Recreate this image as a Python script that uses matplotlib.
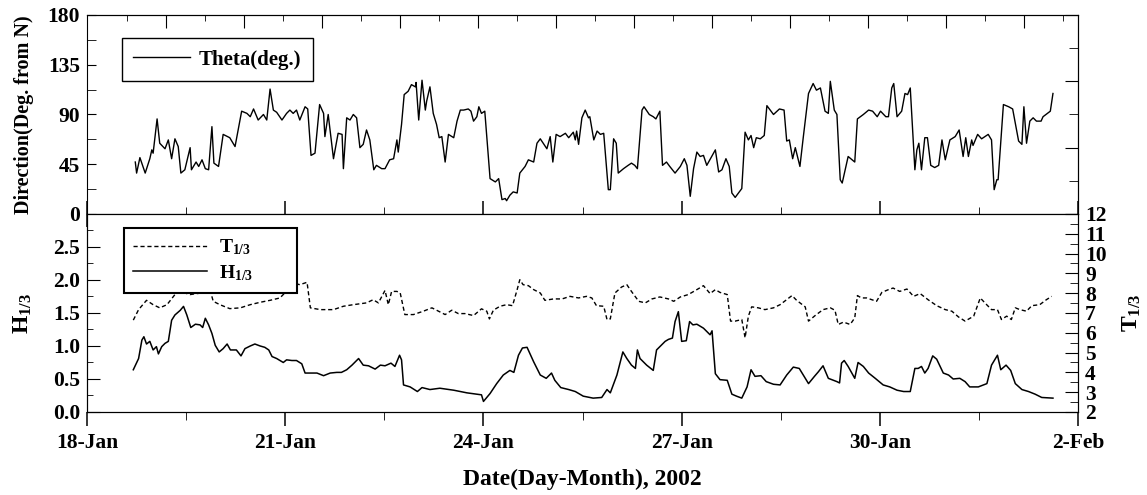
import numpy as np
import matplotlib
matplotlib.use('Agg')
import matplotlib.pyplot as plt
from matplotlib.ticker import MultipleLocator, FormatStrFormatter

plt.rcParams['font.family'] = ['Liberation Serif', 'DejaVu Serif']
plt.rcParams['font.weight'] = 'bold'
plt.rcParams['axes.labelweight'] = 'bold'
plt.rcParams['font.size'] = 15
plt.rcParams['mathtext.fontset'] = 'custom'
plt.rcParams['mathtext.rm'] = 'Liberation Serif'
plt.rcParams['mathtext.bf'] = 'Liberation Serif:bold'

# wave direction (deg from N), time in days of January 2002
theta_days = [18.73, 18.75, 18.80, 18.88, 18.95, 18.98, 19.00, 19.06, 19.10, 19.18,
              19.23, 19.28, 19.33, 19.38, 19.42, 19.48, 19.56, 19.58, 19.65, 19.69,
              19.74, 19.79, 19.84, 19.89, 19.92, 19.99, 20.06, 20.16, 20.24, 20.34,
              20.42, 20.47, 20.52, 20.59, 20.67, 20.72, 20.77, 20.82, 20.87, 20.95,
              21.02, 21.07, 21.12, 21.17, 21.22, 21.30, 21.34, 21.39, 21.45, 21.52,
              21.58, 21.60, 21.65, 21.73, 21.80, 21.86, 21.88, 21.93, 21.98, 22.03,
              22.08, 22.13, 22.18, 22.23, 22.28, 22.34, 22.38, 22.46, 22.51, 22.58,
              22.64, 22.69, 22.71, 22.76, 22.80, 22.86, 22.91, 22.97, 22.98, 23.02,
              23.07, 23.12, 23.14, 23.19, 23.24, 23.29, 23.33, 23.37, 23.42,
              23.47, 23.55, 23.60, 23.65, 23.70, 23.77, 23.81, 23.85, 23.90, 23.93,
              23.97, 24.02, 24.10, 24.18, 24.23, 24.28, 24.33, 24.35, 24.40, 24.45,
              24.51, 24.55, 24.63, 24.68, 24.76, 24.81, 24.86, 24.96, 25.01, 25.05,
              25.10, 25.16, 25.24, 25.29, 25.36, 25.39, 25.41, 25.44, 25.49, 25.54,
              25.59, 25.61, 25.67, 25.72, 25.77, 25.82, 25.89, 25.92, 25.97, 26.01,
              26.04, 26.12, 26.19, 26.24, 26.29, 26.33, 26.40, 26.43, 26.51, 26.57,
              26.61, 26.67, 26.71, 26.77, 26.82, 26.90, 26.98, 27.04, 27.08, 27.13,
              27.18, 27.23, 27.28, 27.33, 27.38, 27.51, 27.56, 27.61, 27.67, 27.72,
              27.76, 27.81, 27.86, 27.91, 27.96, 28.01, 28.05, 28.09, 28.13, 28.19,
              28.25, 28.29, 28.39, 28.48,
              28.55, 28.59, 28.63, 28.68, 28.72, 28.79, 28.84, 28.92, 28.99, 29.04,
              29.10, 29.17, 29.22, 29.25, 29.31, 29.35, 29.40, 29.43, 29.52, 29.62,
              29.66, 29.75, 29.83, 29.89, 29.96, 30.01, 30.09, 30.13, 30.18, 30.21,
              30.26, 30.33, 30.38, 30.42, 30.46, 30.53, 30.56, 30.59, 30.63, 30.68,
              30.72, 30.77, 30.83, 30.89, 30.94, 30.99, 31.06, 31.14, 31.20, 31.26,
              31.30, 31.34, 31.39, 31.41, 31.48, 31.54, 31.59, 31.64, 31.69, 31.73,
              31.77, 31.79, 31.87, 31.95, 32.01, 32.10, 32.15, 32.18, 32.22, 32.27,
              32.32, 32.37, 32.44, 32.47, 32.58, 32.62]
theta = [47, 37, 51, 37, 50, 58, 55, 86, 64, 59,
         67, 50, 68, 61, 37, 40, 60, 40, 47, 43,
         49, 41, 40, 79, 46, 43, 72, 69, 61, 93,
         91, 88, 95, 85, 90, 85, 113, 94, 92, 85,
         91, 94, 91, 94, 85, 97, 95, 53, 55, 99,
         91, 70, 90, 50, 73, 72, 41, 87, 85, 90,
         87, 60, 63, 76, 67, 40, 44, 41, 41, 49,
         50, 67, 56, 81, 108, 111, 117, 115, 119, 85,
         121, 94, 102, 115, 91, 81, 69, 70, 47,
         72, 69, 84, 94, 94, 95, 93, 84, 88, 97,
         91, 93, 32, 29, 32, 13, 14, 12, 17, 20,
         19, 37, 43, 49, 47, 64, 68, 59, 70, 47,
         72, 70, 73, 69, 74, 67, 75, 63, 87, 94,
         87, 88, 67, 75, 72, 73, 22, 22, 68, 64,
         37, 41, 44, 46, 44, 41, 94, 97, 90, 88,
         86, 93, 44, 47, 43, 37, 43, 50, 44, 16,
         41, 56, 52, 53, 44, 58, 38, 40, 50, 43,
         19, 15, 19, 23, 74, 67, 71, 60, 69, 68,
         71, 98, 90, 95,
         94, 66, 67, 50, 60, 43, 69, 109, 118, 112,
         114, 93, 91, 120, 94, 90, 31, 28, 52, 47,
         86, 90, 94, 93, 88, 93, 88, 88, 114, 118,
         88, 93, 109, 108, 114, 40, 58, 64, 40, 69,
         69, 44, 42, 44, 67, 49, 67, 70, 76, 52,
         69, 52, 67, 62, 72, 68, 70, 72, 67, 22,
         31, 31, 99, 97, 95, 66, 63, 97, 64, 84,
         87, 84, 84, 88, 93, 109]

# significant wave period T1/3 (s)
t_days = [18.70, 18.78, 18.90, 19.00, 19.10, 19.21, 19.33, 19.41, 19.48, 19.56,
          19.66, 19.74, 19.81, 19.86, 19.91, 20.01, 20.16, 20.32, 20.47, 20.62,
          20.77, 20.92, 21.05, 21.12, 21.22, 21.33, 21.38, 21.53, 21.73, 21.88,
          22.03, 22.23, 22.33, 22.41, 22.51, 22.56, 22.61, 22.69, 22.74, 22.81,
          22.94, 23.09, 23.22, 23.32,
          23.42, 23.52, 23.62, 23.72, 23.85, 23.97, 24.05, 24.09, 24.15, 24.25,
          24.35, 24.44, 24.51, 24.55, 24.60, 24.68, 24.76, 24.86, 24.93, 25.06,
          25.19, 25.31, 25.44, 25.56, 25.64, 25.71, 25.82, 25.87, 25.92, 25.99,
          26.09, 26.17, 26.24, 26.35, 26.45, 26.55, 26.67, 26.80, 26.88, 26.98,
          27.10, 27.23, 27.33, 27.43, 27.51, 27.58, 27.69, 27.74, 27.81, 27.91,
          27.96, 28.01, 28.06, 28.16, 28.26, 28.39, 28.49,
          28.67, 28.74, 28.87, 28.92, 29.02, 29.14, 29.25, 29.32, 29.37, 29.45,
          29.55, 29.62, 29.66, 29.72, 29.80, 29.88, 29.95, 30.03, 30.13, 30.20,
          30.30, 30.41, 30.51, 30.61, 30.73, 30.86, 30.99, 31.09, 31.19, 31.29,
          31.42, 31.52, 31.59, 31.69, 31.78, 31.84, 31.92, 31.99, 32.05, 32.12,
          32.22, 32.30, 32.42, 32.52, 32.60]
t13 = [6.64, 7.17, 7.64, 7.42, 7.26, 7.42, 7.93, 8.09, 8.01, 7.93,
       7.98, 8.01, 8.09, 8.18, 7.59, 7.42, 7.22, 7.26, 7.42, 7.54,
       7.64, 7.76, 8.21, 8.51, 8.43, 8.55, 7.26, 7.17, 7.17, 7.34,
       7.42, 7.51, 7.67, 7.51, 8.14, 7.42, 8.09, 8.09, 8.01, 6.92,
       6.92, 7.09, 7.26, 7.09,
       6.92, 7.14, 6.97, 6.97, 6.87, 7.21, 7.09, 6.70, 7.14, 7.34,
       7.42, 7.37, 8.18, 8.68, 8.43, 8.38, 8.18, 8.01, 7.64, 7.71,
       7.71, 7.84, 7.76, 7.84, 7.76, 7.37, 7.34, 6.67, 6.70, 8.01,
       8.31, 8.43, 8.09, 7.59, 7.51, 7.71, 7.81, 7.71, 7.59, 7.81,
       7.93, 8.18, 8.38, 7.98, 8.18, 8.04, 7.93, 6.59, 6.59, 6.67,
       5.75, 6.84, 7.31, 7.26, 7.17, 7.26, 7.42,
       7.88, 7.64, 7.31, 6.59, 6.87, 7.17, 7.26, 7.14, 6.42, 6.54,
       6.42, 6.75, 7.88, 7.76, 7.76, 7.67, 7.59, 8.04, 8.18, 8.26,
       8.09, 8.21, 7.84, 7.98, 7.67, 7.37, 7.17, 7.09, 6.80, 6.59,
       6.84, 7.76, 7.51, 7.17, 7.17, 6.67, 6.84, 6.67, 7.26, 7.17,
       7.09, 7.37, 7.42, 7.67, 7.84]

# significant wave height H1/3 (m)
h_days = [18.70, 18.78, 18.83, 18.86, 18.90, 18.95, 19.00, 19.05, 19.08, 19.13,
          19.18, 19.23, 19.28, 19.33, 19.41, 19.46, 19.51, 19.57, 19.64, 19.71,
          19.75, 19.79, 19.84, 19.89, 19.94, 20.00, 20.06, 20.12, 20.17, 20.26,
          20.33, 20.39, 20.47, 20.54, 20.62, 20.69, 20.75, 20.80, 20.87, 20.97,
          21.02, 21.10, 21.17, 21.25, 21.30, 21.38, 21.48, 21.58, 21.68, 21.78,
          21.85, 21.93, 22.01, 22.11, 22.18, 22.26, 22.36, 22.44, 22.51, 22.60,
          22.66, 22.73, 22.76, 22.79, 22.89, 23.00, 23.07, 23.19,
          23.34, 23.55, 23.75, 23.97, 24.00, 24.10, 24.20, 24.30, 24.40, 24.46,
          24.53, 24.59, 24.66, 24.76, 24.86, 24.95, 25.03, 25.08, 25.17, 25.29,
          25.39, 25.51, 25.66, 25.79, 25.87, 25.92, 26.02, 26.11, 26.17, 26.24,
          26.30, 26.33, 26.37, 26.47, 26.57, 26.62, 26.67, 26.75, 26.80, 26.86,
          26.90, 26.95, 27.00, 27.07, 27.12, 27.17, 27.23, 27.33, 27.43, 27.46,
          27.51, 27.58, 27.69, 27.76, 27.83, 27.91, 27.99, 28.05, 28.11, 28.20,
          28.28, 28.39, 28.49,
          28.59, 28.69, 28.78, 28.92, 29.01, 29.07, 29.14, 29.22, 29.35, 29.39,
          29.42, 29.46, 29.52, 29.62, 29.67, 29.75, 29.83, 29.93, 30.05, 30.15,
          30.26, 30.36, 30.46, 30.53, 30.58, 30.63, 30.68, 30.73, 30.80, 30.86,
          30.96, 31.04, 31.11, 31.21, 31.29, 31.36, 31.49, 31.62, 31.69, 31.78,
          31.83, 31.91, 31.98, 32.05, 32.15, 32.25, 32.35, 32.45, 32.62]
h13 = [0.64, 0.81, 1.09, 1.14, 1.03, 1.07, 0.94, 0.99, 0.88, 0.99,
       1.04, 1.07, 1.39, 1.47, 1.54, 1.60, 1.47, 1.28, 1.33, 1.32,
       1.28, 1.42, 1.32, 1.19, 1.01, 0.91, 0.96, 1.03, 0.94, 0.94,
       0.85, 0.96, 1.00, 1.03, 1.00, 0.98, 0.94, 0.84, 0.81, 0.75,
       0.79, 0.78, 0.78, 0.73, 0.59, 0.59, 0.59, 0.55, 0.59, 0.60,
       0.60, 0.64, 0.71, 0.81, 0.71, 0.70, 0.65, 0.71, 0.70, 0.74,
       0.69, 0.86, 0.79, 0.41, 0.38, 0.31, 0.37, 0.34,
       0.36, 0.33, 0.29, 0.26, 0.16, 0.28, 0.43, 0.56, 0.63, 0.60,
       0.86, 0.97, 0.98, 0.76, 0.56, 0.51, 0.59, 0.48, 0.37, 0.34,
       0.31, 0.24, 0.21, 0.22, 0.34, 0.29, 0.56, 0.91, 0.81, 0.71,
       0.66, 0.94, 0.81, 0.71, 0.63, 0.94, 0.99, 1.07, 1.10, 1.12,
       1.37, 1.52, 1.07, 1.08, 1.37, 1.32, 1.33, 1.27, 1.17, 1.23,
       0.58, 0.49, 0.48, 0.27, 0.24, 0.21, 0.38, 0.64, 0.54, 0.55,
       0.46, 0.42, 0.41,
       0.56, 0.68, 0.66, 0.43, 0.54, 0.61, 0.70, 0.51, 0.46, 0.44,
       0.74, 0.78, 0.69, 0.51, 0.75, 0.69, 0.59, 0.51, 0.41, 0.38,
       0.33, 0.31, 0.31, 0.66, 0.66, 0.69, 0.59, 0.66, 0.85, 0.80,
       0.59, 0.56, 0.50, 0.51, 0.46, 0.38, 0.38, 0.43, 0.71, 0.86,
       0.64, 0.71, 0.63, 0.43, 0.34, 0.31, 0.27, 0.22, 0.21]

date_ticks = [18, 21, 24, 27, 30, 33]
date_labels = ['18-Jan', '21-Jan', '24-Jan', '27-Jan', '30-Jan', '2-Feb']

fig = plt.figure(figsize=(11.47, 4.95), dpi=100)
ax1 = fig.add_axes([0.0759, 0.5677, 0.8640, 0.4020])
ax2 = fig.add_axes([0.0759, 0.1677, 0.8640, 0.4000], sharex=ax1)

# --- top panel: direction
ax1.plot(theta_days, theta, color='black', lw=1.0, label='Theta(deg.)')
ax1.set_xlim(18, 33)
ax1.set_ylim(0, 180)
ax1.set_yticks([0, 45, 90, 135, 180])
ax1.yaxis.set_minor_locator(MultipleLocator(22.5))
ax1.set_ylabel('Direction(Deg. from N)', fontsize=14.5)
ax1.yaxis.set_label_coords(-0.054, 0.5)
ax1.tick_params(axis='x', which='both', direction='inout', top=False, labelbottom=False)
ax1.tick_params(axis='x', which='major', length=19, width=1.1)
ax1.tick_params(axis='x', which='minor', length=9.5)
ax1.tick_params(axis='y', which='both', direction='in', right=False, length=6.5,
                labelsize=15.5, pad=5)
ax1.legend(loc='upper left', bbox_to_anchor=(0.035, 0.884), borderaxespad=0,
           handlelength=2.75, handletextpad=0.4, borderpad=0.55,
           fancybox=False, edgecolor='black', framealpha=1,
           prop={'weight': 'bold', 'size': 15})

top = ax1.secondary_xaxis('top')
top.set_xticks(np.arange(19.2, 33, 1.18))
top.set_xticks(np.arange(18.61, 33, 1.18), minor=True)
top.tick_params(which='both', direction='in', labeltop=False)
top.tick_params(which='major', length=9.5)
top.tick_params(which='minor', length=4)

right = ax1.secondary_yaxis('right')
right.set_yticks([0, 60, 120, 180])
right.set_yticks([30, 90, 150], minor=True)
right.tick_params(which='both', direction='in', labelright=False)
right.tick_params(which='major', length=9.5)
right.tick_params(which='minor', length=6.5)

# --- bottom panel: height and period
lh, = ax2.plot(h_days, h13, color='black', lw=1.1, label=r'$\mathbf{H_{1/3}}$')
ax2.set_ylim(0, 3.0)
ax2.set_yticks(np.arange(0, 2.6, 0.5))
ax2.yaxis.set_minor_locator(MultipleLocator(0.25))
ax2.yaxis.set_major_formatter(FormatStrFormatter('%.1f'))
ax2.set_xticks(date_ticks, date_labels)
ax2.xaxis.set_minor_locator(MultipleLocator(1.5))
ax2.tick_params(axis='x', which='both', direction='out', top=False, labelsize=15.5, pad=5)
ax2.tick_params(axis='x', which='major', length=10, width=1.1)
ax2.tick_params(axis='x', which='minor', length=5.5)
ax2.tick_params(axis='y', which='both', direction='in', labelsize=15.5, pad=5)
ax2.tick_params(axis='y', which='major', length=9.5)
ax2.tick_params(axis='y', which='minor', length=4)
ax2.set_ylabel(r'$\mathbf{H_{1/3}}$', fontsize=17)
ax2.yaxis.set_label_coords(-0.054, 0.5)
ax2.set_xlabel('Date(Day-Month), 2002', fontsize=17)
ax2.xaxis.set_label_coords(0.5, -0.285)

ax3 = ax2.twinx()
lt, = ax3.plot(t_days, t13, color='black', lw=1.0, linestyle=(0, (3, 2)),
               label=r'$\mathbf{T_{1/3}}$')
ax3.set_ylim(2, 12)
ax3.set_yticks(range(2, 13))
ax3.yaxis.set_minor_locator(MultipleLocator(0.5))
ax3.tick_params(axis='y', which='both', direction='in', labelsize=15.5, pad=5)
ax3.tick_params(axis='y', which='major', length=9.5)
ax3.tick_params(axis='y', which='minor', length=5.5)
ax3.set_ylabel(r'$\mathbf{T_{1/3}}$', fontsize=17)
ax3.yaxis.set_label_coords(1.043, 0.5)

# legend box stretched to the width of the original frame
leg = ax3.legend(handles=[lt, lh], loc='upper left', mode='expand',
                 bbox_to_anchor=(0.037, 0.3, 0.175, 0.629),
                 borderaxespad=0, handlelength=3.8, handletextpad=0.6, labelspacing=0.3,
                 fancybox=False, edgecolor='black', framealpha=1, borderpad=0.5,
                 prop={'weight': 'bold', 'size': 14})
leg.get_frame().set_linewidth(1.5)

fig.savefig('out.png', dpi=100)
